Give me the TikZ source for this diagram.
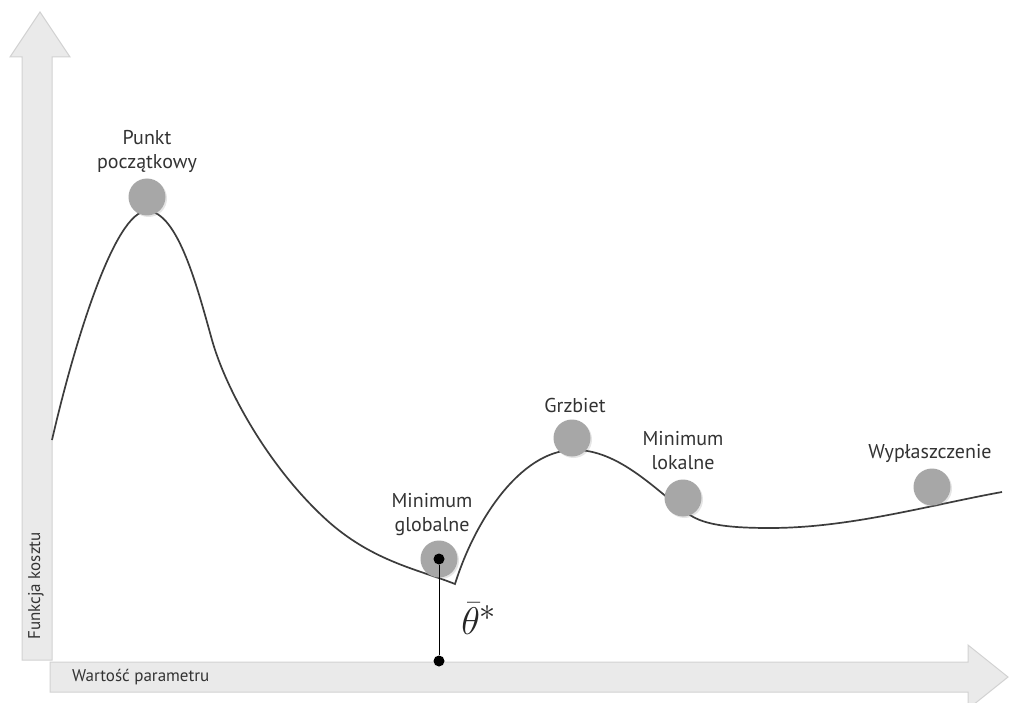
\documentclass[tikz,border=0pt]{standalone}
\usepackage{fontspec}
\setmainfont{PT Sans}
\usetikzlibrary{shadows}
\begin{document}
\begin{tikzpicture}[x=1pt,y=-1pt,
  axisarrow/.style={fill=axisfill,draw=axisedge,line width=1pt},
  ball/.style={circle,fill=ballgray,inner sep=0pt,minimum size=37pt,
    drop shadow={shadow xshift=1.5pt,shadow yshift=-1.5pt,opacity=0.2}},
  blackdot/.style={circle,fill=black,inner sep=0pt,minimum size=11pt},
  lbl/.style={font=\fontsize{20}{24}\selectfont,text=txt,align=center,inner sep=0pt},
  axlbl/.style={font=\fontsize{17}{18}\selectfont,text=txt,inner sep=0pt},
  curve/.style={draw=curvecol,line width=1.7pt,line join=miter}]
\definecolor{axisfill}{HTML}{EAEAEA}
\definecolor{axisedge}{HTML}{D2D2D2}
\definecolor{ballgray}{HTML}{A7A7A7}
\definecolor{curvecol}{HTML}{3C3C3C}
\definecolor{txt}{HTML}{333333}
\fill[white] (0,0) rectangle (1009,703);
\useasboundingbox (0,0) rectangle (1009,703);
% axes
\path[axisarrow] (22,660) -- (22,57) -- (10,57) -- (40,12) -- (70,57) -- (52,57) -- (52,660) -- cycle;
\path[axisarrow] (50,662) -- (968,662) -- (968,645) -- (1008,677) -- (968,709) -- (968,692) -- (50,692) -- cycle;
\node[axlbl,rotate=90] (ylab) at (36,586) {Funkcja kosztu};
\node[axlbl,anchor=west] (xlab) at (72,677) {Wartość parametru};
% curve
\draw[curve] (52,440) .. controls (75,340) and (115,211) .. (147,211)
  .. controls (178,211) and (198,290) .. (212,340)
  .. controls (226,390) and (270,470) .. (330,523)
  .. controls (375,562) and (420,570) .. (455,584)
  .. controls (475,520) and (520,452) .. (572,450)
  .. controls (620,448) and (660,495) .. (690,515)
  .. controls (705,525) and (730,528) .. (770,528)
  .. controls (850,528) and (930,505) .. (1002,492);
% balls
\node[ball] (start) at (147,197) {};
\node[ball] (ridge) at (572,438) {};
\node[ball] (locmin) at (683,498) {};
\node[ball] (plateau) at (932,487) {};
\node[ball] (glob) at (439,559) {};
\node[blackdot] (gc) at (439,559) {};
\node[blackdot] (ax) at (439,661) {};
\draw[black,line width=1pt] (gc) -- (ax);
% labels
\node[lbl] (lstart) at (147,151) {Punkt\\początkowy};
\node[lbl] (lridge) at (575,405) {Grzbiet};
\node[lbl] (llocmin) at (683,451) {Minimum\\lokalne};
\node[lbl] (lglob) at (432,515) {Minimum\\globalne};
\node[lbl] (lplateau) at (930,453) {Wypłaszczenie};
\node[text=black!85,inner sep=0pt,scale=1.55,transform shape] (theta) at (479,619) {\Huge$\bar{\theta}^{*}$};
\end{tikzpicture}
\end{document}
